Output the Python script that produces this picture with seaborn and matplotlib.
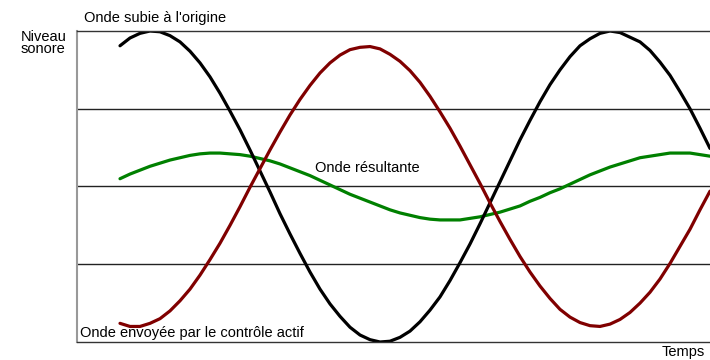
import numpy as np
import pandas as pd
import matplotlib
matplotlib.use("Agg")
import matplotlib.pyplot as plt
import seaborn as sns

# Temps (axis units, 0 = left edge of the plot)
temps = [43, 53, 63, 73, 83, 93, 103, 113, 123, 133,
         143, 153, 163, 173, 183, 193, 203, 213, 223, 233,
         243, 253, 263, 273, 283, 293, 303, 313, 323, 333,
         343, 353, 363, 373, 383, 393, 403, 413, 423, 433,
         443, 453, 463, 473, 483, 493, 503, 513, 523, 533,
         543, 553, 563, 573, 583, 593, 603, 613, 623, 633]

# Onde subie a l'origine (black)
onde_origine = [1.81, 1.91, 1.97, 2.00, 1.99, 1.94, 1.86, 1.74, 1.59, 1.41,
                1.20, 0.97, 0.73, 0.47, 0.20, -0.07, -0.35, -0.61, -0.86, -1.10,
                -1.32, -1.51, -1.67, -1.81, -1.91, -1.97, -2.00, -1.99, -1.94, -1.86,
                -1.74, -1.59, -1.42, -1.21, -0.98, -0.74, -0.48, -0.21, 0.06, 0.33,
                0.60, 0.85, 1.09, 1.31, 1.50, 1.67, 1.81, 1.90, 1.97, 2.00,
                1.98, 1.92, 1.86, 1.75, 1.60, 1.43, 1.22, 1.00, 0.75, 0.49]

# Onde envoyee par le controle actif (dark red)
onde_controle = [-1.76, -1.80, -1.80, -1.76, -1.70, -1.60, -1.47, -1.32, -1.14, -0.94,
                 -0.73, -0.50, -0.26, -0.01, 0.23, 0.47, 0.70, 0.92, 1.12, 1.30,
                 1.46, 1.59, 1.69, 1.76, 1.79, 1.80, 1.77, 1.70, 1.61, 1.49,
                 1.34, 1.16, 0.96, 0.75, 0.52, 0.28, 0.04, -0.21, -0.45, -0.68,
                 -0.90, -1.10, -1.28, -1.44, -1.58, -1.68, -1.75, -1.79, -1.80, -1.77,
                 -1.71, -1.62, -1.50, -1.36, -1.19, -0.99, -0.77, -0.55, -0.30, -0.06]

# Onde resultante (green)
onde_resultante = [0.10, 0.16, 0.21, 0.26, 0.30, 0.34, 0.37, 0.40, 0.42, 0.43,
                   0.43, 0.42, 0.41, 0.39, 0.36, 0.33, 0.29, 0.24, 0.19, 0.14,
                   0.08, 0.02, -0.04, -0.10, -0.15, -0.20, -0.25, -0.30, -0.34, -0.37,
                   -0.40, -0.42, -0.43, -0.43, -0.43, -0.41, -0.39, -0.36, -0.33, -0.29,
                   -0.25, -0.19, -0.14, -0.08, -0.03, 0.03, 0.09, 0.15, 0.20, 0.25,
                   0.29, 0.33, 0.37, 0.39, 0.41, 0.43, 0.43, 0.43, 0.41, 0.39]

df = pd.DataFrame({"temps": temps, "origine": onde_origine,
                   "controle": onde_controle, "resultante": onde_resultante})

sns.set_style("white")
plt.rcParams['font.family'] = ['Liberation Sans', 'DejaVu Sans']

fig = plt.figure(figsize=(7.1, 3.6), dpi=100)
ax = fig.add_axes([77 / 710, 1 - 342 / 360, 633 / 710, 311 / 360])

sns.lineplot(data=df, x="temps", y="resultante", color="#008000", lw=2.3, ax=ax)
sns.lineplot(data=df, x="temps", y="origine", color="black", lw=2.3, ax=ax)
sns.lineplot(data=df, x="temps", y="controle", color="#800000", lw=2.3, ax=ax)

ax.set_xlim(0, 633)
ax.set_ylim(-2, 2)
ax.set_xticks([])
ax.set_yticks([-1, 0, 1])
ax.set_yticklabels([])
ax.tick_params(length=0)
ax.grid(axis='y', color="#222222", lw=1)
ax.set_xlabel("")
ax.set_ylabel("")

for side in ["top", "bottom"]:
    ax.spines[side].set_color("#333333")
    ax.spines[side].set_linewidth(1)
ax.spines["left"].set_color("#999999")
ax.spines["left"].set_linewidth(1.5)
ax.spines["right"].set_visible(False)

fs = 10.5
fig.text(84 / 710, 1 - 18 / 360, "Onde subie à l'origine", fontsize=fs,
         va="center", color="black")
fig.text(21 / 710, 1 - 43 / 360, "Niveau\nsonore", fontsize=fs, va="center",
         linespacing=0.85, color="black")
fig.text(315 / 710, 1 - 168 / 360, "Onde résultante", fontsize=fs,
         va="center", color="black")
fig.text(80 / 710, 1 - 333 / 360, "Onde envoyée par le contrôle actif",
         fontsize=fs, va="center", color="black")
fig.text(705 / 710, 1 - 352 / 360, "Temps", fontsize=fs, va="center",
         ha="right", color="black")

fig.savefig("out.png", dpi=100)
